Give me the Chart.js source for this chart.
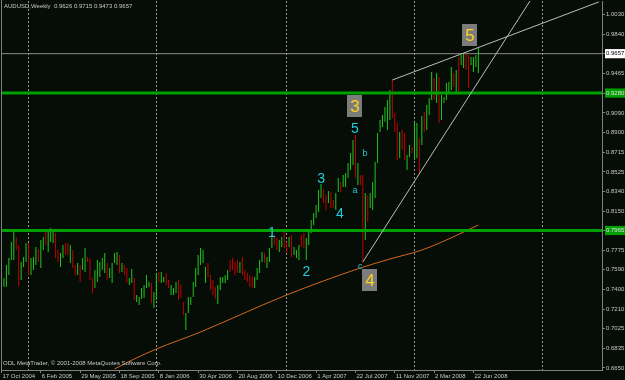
<!DOCTYPE html>
<html>
<head>
<meta charset="utf-8">
<script src="https://cdn.jsdelivr.net/npm/chart.js@4.4.1/dist/chart.umd.min.js"></script>
<style>
html, body { margin: 0; padding: 0; background: #060c06; }
#wrap { width: 625px; height: 380px; }
</style>
</head>
<body>
<div id="wrap"><canvas id="chart" width="625" height="380"></canvas></div>
<script>
// weekly AUDUSD bars (bar 0 = 17 Oct 2004)
let highs = [
 0.7415,0.7511,0.7635,0.7702,0.7855,0.7951,0.7903,0.7826,0.7664,0.7711,
 0.7845,0.7845,0.7702,0.7711,0.7807,0.7788,0.7874,0.7903,0.7951,0.7951,
 0.7989,0.7951,0.7941,0.7778,0.7750,0.7826,0.7845,0.7845,0.7826,0.7778,
 0.7635,0.7654,0.7635,0.7702,0.7797,0.7711,0.7702,0.7511,0.7587,0.7683,
 0.7664,0.7702,0.7750,0.7654,0.7606,0.7654,0.7750,0.7759,0.7730,0.7654,
 0.7635,0.7606,0.7510,0.7597,0.7510,0.7348,0.7329,0.7415,0.7443,0.7539,
 0.7472,0.7463,0.7376,0.7558,0.7568,0.7568,0.7520,0.7558,0.7491,0.7443,
 0.7415,0.7472,0.7491,0.7443,0.7281,0.7175,0.7329,0.7329,0.7472,0.7606,
 0.7730,0.7797,0.7778,0.7616,0.7654,0.7539,0.7491,0.7424,0.7443,0.7520,
 0.7520,0.7539,0.7587,0.7683,0.7702,0.7664,0.7683,0.7664,0.7711,0.7587,
 0.7558,0.7539,0.7520,0.7520,0.7606,0.7683,0.7759,0.7750,0.7711,0.7797,
 0.7922,0.7922,0.7893,0.7874,0.7903,0.7970,0.7855,0.7903,0.7922,0.7807,
 0.7778,0.7826,0.7922,0.7941,0.7893,0.7951,0.8065,0.8132,0.8209,0.8353,
 0.8410,0.8362,0.8305,0.8343,0.8333,0.8257,0.8324,0.8467,0.8429,0.8496,
 0.8515,0.8611,0.8707,0.8831,0.8879,0.8611,0.8496,0.8496,0.8324,0.8305,
 0.8324,0.8429,0.8620,0.8898,0.9023,0.9070,0.9147,0.9214,0.9310,0.9405,
 0.9089,0.8994,0.8908,0.8927,0.8898,0.8688,0.8783,0.8764,0.9003,0.8994,
 0.8850,0.9061,0.9099,0.9166,0.9233,0.9482,0.9425,0.9472,0.9434,0.9262,
 0.9243,0.9377,0.9387,0.9530,0.9472,0.9501,0.9626,0.9645,0.9664,0.9664,
 0.9645,0.9626,0.9626,0.9645,0.9715
];
let lows = [
 0.7214,0.7425,0.7425,0.7539,0.7683,0.7683,0.7778,0.7434,0.7491,0.7616,
 0.7664,0.7539,0.7539,0.7587,0.7635,0.7664,0.7606,0.7778,0.7826,0.7759,
 0.7855,0.7845,0.7702,0.7664,0.7616,0.7702,0.7730,0.7730,0.7654,0.7606,
 0.7539,0.7539,0.7472,0.7587,0.7568,0.7664,0.7491,0.7367,0.7415,0.7472,
 0.7520,0.7587,0.7558,0.7491,0.7510,0.7463,0.7654,0.7635,0.7558,0.7568,
 0.7539,0.7463,0.7443,0.7463,0.7300,0.7281,0.7252,0.7310,0.7319,0.7415,
 0.7424,0.7271,0.7223,0.7300,0.7472,0.7463,0.7472,0.7443,0.7415,0.7348,
 0.7348,0.7367,0.7300,0.7319,0.7156,0.7013,0.7175,0.7252,0.7329,0.7424,
 0.7539,0.7635,0.7654,0.7463,0.7520,0.7395,0.7348,0.7310,0.7262,0.7395,
 0.7463,0.7463,0.7491,0.7568,0.7587,0.7539,0.7558,0.7558,0.7539,0.7491,
 0.7472,0.7424,0.7415,0.7415,0.7491,0.7558,0.7664,0.7654,0.7606,0.7664,
 0.7797,0.7826,0.7778,0.7759,0.7807,0.7797,0.7750,0.7807,0.7711,0.7730,
 0.7702,0.7683,0.7807,0.7797,0.7683,0.7826,0.7941,0.8018,0.8084,0.8142,
 0.8276,0.8228,0.8161,0.8228,0.8180,0.8180,0.8161,0.8333,0.8333,0.8381,
 0.8381,0.8467,0.8544,0.8592,0.8467,0.8400,0.8400,0.7664,0.7874,0.8046,
 0.8180,0.8161,0.8276,0.8611,0.8908,0.8956,0.9003,0.8927,0.9023,0.9041,
 0.8908,0.8640,0.8659,0.8735,0.8640,0.8544,0.8669,0.8707,0.8640,0.8659,
 0.8515,0.8783,0.8908,0.8927,0.9070,0.9214,0.9214,0.9185,0.8994,0.9023,
 0.9185,0.9214,0.9291,0.9310,0.9339,0.9281,0.9281,0.9549,0.9520,0.9501,
 0.9329,0.9549,0.9482,0.9530,0.9473
];
// u = up bar (green), d = down bar (red)
let dirs = [
 'u','u','u','u','u','u','d','d','u','u', 'u','d','u','u','u','d','u','u','d','u',
 'u','u','d','d','u','u','d','d','u','d', 'd','u','d','u','u','d','d','d','u','u',
 'u','u','u','d','u','u','u','u','d','u', 'd','d','u','u','d','u','u','u','u','u',
 'u','d','u','u','d','u','u','d','d','u', 'u','u','d','d','d','u','u','u','u','u',
 'u','u','u','u','d','d','d','d','u','u', 'u','u','u','d','d','d','d','u','d','d',
 'd','d','d','u','u','u','u','d','u','u', 'u','d','d','u','u','d','d','u','d','u',
 'u','u','d','d','u','u','u','u','u','u', 'u','d','d','u','d','d','u','u','d','u',
 'u','u','u','u','d','u','d','d','u','d', 'u','u','u','u','u','u','u','u','u','d',
 'd','d','u','d','d','u','u','d','u','u', 'd','u','d','u','u','u','d','u','d','u',
 'u','u','u','u','d','u','d','u','u','d', 'd','u','u','u','u'
];

let dateTickIdx = [0, 16, 32, 48, 64, 80, 96, 112, 128, 144, 160, 176, 192];
let dateLabels = ['17 Oct 2004', '6 Feb 2005', '29 May 2005', '18 Sep 2005', '8 Jan 2006',
  '30 Apr 2006', '20 Aug 2006', '10 Dec 2006', '1 Apr 2007', '22 Jul 2007',
  '11 Nov 2007', '2 Mar 2008', '22 Jun 2008'];
let yearGridIdx = [11, 63, 116, 168, 220];
let yTicks = [1.0030, 0.9840, 0.9657, 0.9465, 0.9280, 0.9090, 0.8900, 0.8715, 0.8525, 0.8340,
  0.8150, 0.7965, 0.7775, 0.7590, 0.7400, 0.7210, 0.7025, 0.6835, 0.6650];

// moving average (orange)
let maIdx = [46, 54, 63, 81, 100, 116, 146, 158, 171, 181, 188, 194];
let maVals = [0.6640, 0.6735, 0.6831, 0.6994, 0.7188, 0.7348, 0.7606, 0.7692, 0.7778, 0.7874, 0.7951, 0.8018];

let levelPrices = [0.9280, 0.7965];
let bidPrice = 0.9657;
let upperLine = [[159, 0.9405], [243, 1.0152]];
let lowerLine = [[147, 0.7664], [215, 1.0161]];

let waveText = ['1', '2', '3', '4', '5', 'a', 'b', 'c'];
let waveIdx = [110, 124, 130, 137.7, 143.8, 143.8, 147.9, 145.9];
let wavePrice = [0.7941, 0.7568, 0.8458, 0.8123, 0.8936, 0.8343, 0.8697, 0.7625];
let boxText = ['3', '4', '5'];
let boxIdx = [144, 150.1, 190.8];
let boxPrice = [0.9157, 0.7496, 0.9831];

const BG = '#060c06';
const GREEN = '#1fc81f';
const RED = '#c40000';
const AXIS = '#808080';
const TXT = '#c8c8c8';
const XMIN = -0.2, XMAX = 244.3;

Chart.defaults.font.family = 'Liberation Sans';

const bgPlugin = {
  id: 'bg',
  beforeDraw(chart) {
    const ctx = chart.ctx;
    ctx.save();
    ctx.fillStyle = BG;
    ctx.fillRect(0, 0, chart.width, chart.height);
    ctx.restore();
  }
};

const overlay = {
  id: 'overlay',
  afterDatasetsDraw(chart) {
    const ctx = chart.ctx, a = chart.chartArea;
    const x = chart.scales.x, y = chart.scales.y;
    ctx.save();
    ctx.beginPath();
    ctx.rect(a.left, a.top, a.right - a.left, a.bottom - a.top);
    ctx.clip();
    ctx.textAlign = 'center';
    ctx.textBaseline = 'middle';
    // wave counts
    for (let k = 0; k < waveText.length; k++) {
      const small = /[a-z]/.test(waveText[k]);
      ctx.font = (small ? '9px' : '14px') + ' "Liberation Sans"';
      ctx.fillStyle = '#22ccdd';
      ctx.fillText(waveText[k], x.getPixelForValue(waveIdx[k]), y.getPixelForValue(wavePrice[k]));
    }
    // boxed counts
    for (let k = 0; k < boxText.length; k++) {
      const cx = Math.round(x.getPixelForValue(boxIdx[k]));
      const cy = Math.round(y.getPixelForValue(boxPrice[k]));
      ctx.fillStyle = '#7c7c7c';
      ctx.fillRect(cx - 8, cy - 11, 15, 22);
      ctx.font = '17px "Liberation Sans"';
      ctx.fillStyle = '#ffd21e';
      ctx.fillText(boxText[k], cx, cy + 1);
    }
    ctx.restore();
  },
  afterDraw(chart) {
    const ctx = chart.ctx, a = chart.chartArea;
    ctx.save();
    ctx.strokeStyle = AXIS;
    ctx.lineWidth = 1;
    ctx.beginPath();
    ctx.moveTo(a.left + 0.5, 0);
    ctx.lineTo(a.left + 0.5, a.bottom);
    ctx.stroke();
    ctx.fillStyle = TXT;
    ctx.font = '6px "Liberation Sans"';
    ctx.textAlign = 'left';
    ctx.textBaseline = 'middle';
    ctx.fillText('AUDUSD,Weekly  0.9626 0.9715 0.9473 0.9657', 4, 6);
    ctx.fillText('ODL MetaTrader, \u00a9 2001-2008 MetaQuotes Software Corp.', 3, 363);
    ctx.restore();
  }
};

// no label overhang padding: keep the plot area fixed
function noPad(s) {
  s.paddingLeft = 0; s.paddingRight = 0; s.paddingTop = 0; s.paddingBottom = 0;
}

const bars = highs.map((h, i) => ({ x: i, y: [lows[i], h] }));
const hLine = (p) => [{ x: XMIN - 5, y: p }, { x: XMAX + 5, y: p }];
const seg = (s) => s.map(pt => ({ x: pt[0], y: pt[1] }));

new Chart(document.getElementById('chart'), {
  data: {
    datasets: [
      {
        type: 'bar',
        data: bars,
        backgroundColor: dirs.map(d => d === 'u' ? GREEN : RED),
        barThickness: 1,
        inflateAmount: 0,
        grouped: false,
        borderWidth: 0,
        order: 10
      },
      {
        type: 'line',
        data: maIdx.map((v, k) => ({ x: v, y: maVals[k] })),
        borderColor: '#d2691e',
        borderWidth: 1,
        pointRadius: 0,
        cubicInterpolationMode: 'monotone',
        clip: 0,
        order: 5
      },
      ...levelPrices.map(p => ({
        type: 'line', data: hLine(p), borderColor: '#00a000', borderWidth: 3,
        pointRadius: 0, clip: 0, order: 2
      })),
      {
        type: 'line', data: hLine(bidPrice), borderColor: '#8c8c8c', borderWidth: 1,
        pointRadius: 0, clip: 0, order: 3
      },
      {
        type: 'line', data: seg(upperLine), borderColor: '#bdbdbd', borderWidth: 1,
        pointRadius: 0, clip: 0, order: 1
      },
      {
        type: 'line', data: seg(lowerLine), borderColor: '#bdbdbd', borderWidth: 1,
        pointRadius: 0, clip: 0, order: 1
      }
    ]
  },
  options: {
    responsive: false,
    animation: false,
    devicePixelRatio: 1,
    layout: { padding: { left: 1, top: 1, right: 0, bottom: 0 } },
    plugins: { legend: { display: false }, tooltip: { enabled: false } },
    scales: {
      x: {
        type: 'linear',
        min: XMIN,
        max: XMAX,
        offset: false,
        position: 'bottom',
        afterBuildTicks: (s) => { s.ticks = dateTickIdx.map(v => ({ value: v })); },
        afterFit: (s) => { s.height = 10; noPad(s); },
        grid: { offset: false, drawOnChartArea: false, drawTicks: true, tickLength: 3, color: AXIS },
        border: { display: true, color: AXIS },
        ticks: {
          autoSkip: false,
          maxRotation: 0,
          minRotation: 0,
          align: 'start',
          padding: 0,
          labelOffset: 1,
          color: TXT,
          font: { size: 6 },
          callback: (v, i) => dateLabels[i]
        }
      },
      x2: {
        type: 'linear',
        min: XMIN,
        max: XMAX,
        offset: false,
        position: 'top',
        afterBuildTicks: (s) => { s.ticks = yearGridIdx.map(v => ({ value: v })); },
        afterFit: (s) => { s.height = 0; noPad(s); },
        grid: { offset: false, drawOnChartArea: true, drawTicks: false, color: '#9a9a9a', lineWidth: 1 },
        border: { display: false, dash: [2, 2] },
        ticks: { display: false }
      },
      y: {
        type: 'linear',
        position: 'right',
        min: 0.6630,
        max: 1.0161,
        afterBuildTicks: (s) => { s.ticks = yTicks.map(v => ({ value: v })); },
        afterFit: (s) => { s.width = 23; noPad(s); },
        grid: { drawOnChartArea: false, drawTicks: true, tickLength: 3, color: AXIS },
        border: { display: true, color: AXIS },
        ticks: {
          padding: 1,
          font: { size: 6 },
          color: (c) => {
            const v = c.tick && c.tick.value;
            if (v === bidPrice) return '#000000';
            if (levelPrices.includes(v)) return '#e0e0e0';
            return TXT;
          },
          showLabelBackdrop: (c) => {
            const v = c.tick && c.tick.value;
            return v === bidPrice || levelPrices.includes(v);
          },
          backdropColor: (c) => (c.tick && c.tick.value === bidPrice) ? '#ffffff' : '#00a000',
          backdropPadding: { x: 1, y: 1 },
          callback: (v) => v.toFixed(4)
        }
      }
    }
  },
  plugins: [bgPlugin, overlay]
});
</script>
</body>
</html>
